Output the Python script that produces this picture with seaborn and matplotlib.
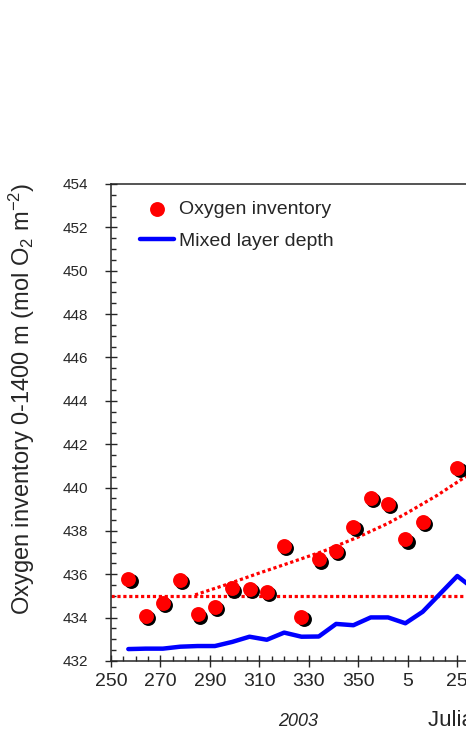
# =========================================
# OXYGEN INVENTORY VS MIXED LAYER DEPTH
# =========================================

import numpy as np
import pandas as pd
import seaborn as sns
import matplotlib.pyplot as plt
from matplotlib.transforms import offset_copy
from matplotlib.ticker import MultipleLocator, FixedLocator


# =========================================
# DATA
# =========================================

days = [257, 264, 271, 278, 285, 292, 299, 306, 313, 320,
        327, 334, 341, 348, 355, 362, 369, 376, 390]
oxygen = [435.78, 434.08, 434.69, 435.74, 434.15, 434.50, 435.35, 435.33, 435.20, 437.30,
          434.04, 436.69, 437.07, 438.20, 439.53, 439.24, 437.61, 438.43, 440.89]

mld_days = [257, 264, 271, 278, 285, 292, 299, 306, 313, 320,
            327, 334, 341, 348, 355, 362, 369, 376, 390, 397]
mld = [432.55, 432.57, 432.57, 432.66, 432.69, 432.69, 432.88, 433.12, 432.98, 433.31,
       433.12, 433.13, 433.71, 433.65, 434.01, 434.01, 433.74, 434.27, 435.92, 435.30]

fit_days = [284, 296, 309, 322, 336, 350, 362, 370, 382, 394]
fit_vals = [435.05, 435.50, 436.02, 436.52, 437.07, 437.72, 438.35, 438.85, 439.65, 440.55]

base_days = [250, 394]
base_vals = [435.0, 435.0]

tick_pos = [250, 270, 290, 310, 330, 350, 370, 390]
tick_labels = ['250', '270', '290', '310', '330', '350', '5', '25']


# =========================================
# STYLE
# =========================================

sns.set_style('ticks')
plt.rcParams['font.family'] = ['Liberation Sans', 'DejaVu Sans']
plt.rcParams['mathtext.fontset'] = 'custom'
plt.rcParams['mathtext.rm'] = 'Liberation Sans'
plt.rcParams['mathtext.it'] = 'Liberation Sans:italic'

fig = plt.figure(figsize=(4.66, 7.34), dpi=100)
ax = fig.add_axes([111 / 466, 1 - 661 / 734, 1 - 111 / 466, (661 - 184) / 734])


# =========================================
# PLOT
# =========================================

sns.lineplot(x=base_days, y=base_vals, color='red', lw=2.3,
             linestyle=(0, (1, 0.85)), ax=ax)
sns.lineplot(x=fit_days, y=fit_vals, color='red', lw=2.3,
             linestyle=(0, (1, 0.85)), ax=ax)

sns.lineplot(x=mld_days, y=mld, color='blue', lw=3.2, label='Mixed layer depth', ax=ax)

shadow = offset_copy(ax.transData, fig=fig, x=2.2, y=-2.2, units='dots')
sns.scatterplot(x=days, y=oxygen, color='black', s=115, linewidth=0,
                transform=shadow, ax=ax, zorder=4)
sns.scatterplot(x=days, y=oxygen, color='red', s=115, linewidth=0,
                label='Oxygen inventory', ax=ax, zorder=5)


# =========================================
# AXES
# =========================================

ax.set_xlim(250, 250 + 355 / 2.4736)
ax.set_ylim(432, 454)

ax.xaxis.set_major_locator(FixedLocator(tick_pos))
ax.set_xticklabels(tick_labels)
ax.xaxis.set_minor_locator(MultipleLocator(5))
ax.yaxis.set_major_locator(MultipleLocator(2))
ax.yaxis.set_minor_locator(MultipleLocator(0.5))

ax.spines['right'].set_visible(False)
for s in ['left', 'top', 'bottom']:
    ax.spines[s].set_linewidth(1.1)

ax.tick_params(which='major', direction='inout', length=8, width=1.0)
ax.tick_params(axis='y', which='major', pad=12.5, labelsize=11)
ax.tick_params(axis='x', which='major', pad=5, labelsize=14)
ax.tick_params(which='minor', direction='in', length=3.5, width=1.0)
ax.set_xlabel('')
ax.set_ylabel('')

fig.text(22 / 466, 1 - 398.5 / 734, 'Oxygen inventory 0-1400 m (mol O$_2$ m$^{-2}$)',
         rotation=90, ha='center', va='center', fontsize=17)
fig.text(297.7 / 466, 1 - 726 / 734, '2003', style='italic',
         ha='center', va='baseline', fontsize=13)
fig.text(428.5 / 466, 1 - 726 / 734, 'Julian day', ha='left', va='baseline', fontsize=16)


# =========================================
# LEGEND
# =========================================

handles, labels = ax.get_legend_handles_labels()
order = [labels.index('Oxygen inventory'), labels.index('Mixed layer depth')]
ax.legend([handles[i] for i in order], [labels[i] for i in order],
          loc='upper left', bbox_to_anchor=((140 - 111) / 355, 1 - (200 - 184) / 477),
          frameon=False, fontsize=14, handlelength=1.75, handletextpad=0.28,
          borderpad=0, borderaxespad=0, labelspacing=0.75)

fig.savefig('out.png', dpi=100)
